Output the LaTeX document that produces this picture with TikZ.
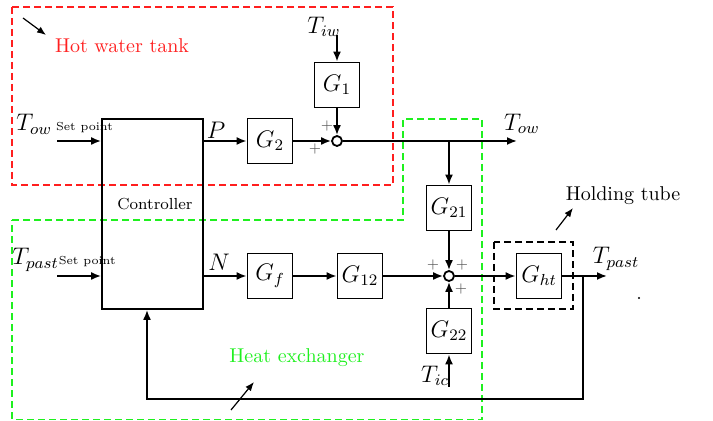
\documentclass[tikz,border=0pt]{standalone}
\usepackage{amsmath}
\usepackage{xcolor}
\usetikzlibrary{arrows.meta}
\definecolor{tankred}{HTML}{FF1F1F}
\definecolor{hexgreen}{HTML}{1FF01F}
\definecolor{plusgray}{HTML}{555555}
\newcommand{\setptfont}{\fontsize{5.8}{7}\selectfont}

\begin{document}
\begin{tikzpicture}[
  x=0.5pt,
  y=-0.5pt,
  every node/.style={font=\large},
  block/.style={draw, line width=0.9pt, minimum size=22.5pt, inner sep=0pt},
  ctrlbox/.style={draw, line width=0.9pt, minimum width=50.5pt,
                  minimum height=95pt, inner sep=0pt},
  sumpt/.style={draw, circle, line width=0.9pt, minimum size=5pt, inner sep=0pt},
  sig/.style={line width=0.9pt, -{Latex[length=5pt, width=4pt]}},
  region/.style={line width=0.9pt, dash pattern=on 3.5pt off 2pt},
  pointer/.style={line width=0.6pt, -{Latex[length=4.5pt, width=3.5pt]}},
  plus/.style={font=\scriptsize, plusgray, inner sep=0pt},
  tag/.style={font=\normalsize}
]
  % ---- page size, in pixels of the reference ----
  \path (0,0) rectangle (713,421);

  % ---- dashed regions ----
  \draw[region, tankred] (12,7) rectangle (393,185);
  \draw[region, hexgreen] (12,220) -- (403,220) -- (403,119) -- (482,119)
    -- (482,419.5) -- (12,419.5) -- cycle;
  \draw[region] (494,242) rectangle (573,309);

  % ---- region labels and their pointers ----
  \node[tag, tankred]  (lbltank) at (122,46)  {Hot water tank};
  \node[tag, hexgreen] (lblhex)  at (297,358) {Heat exchanger};
  \node[tag]           (lblhold) at (623,196) {Holding tube};
  \draw[pointer] (23,18)   -- (46,35);
  \draw[pointer] (231,410) -- (254,382);
  \draw[pointer] (556,230) -- (573,208);

  % ---- controller ----
  \node[ctrlbox] (ctrl) at (152.5,214) {};
  \node[font=\footnotesize] (ctrllbl) at (155,204) {Controller};

  % ---- blocks ----
  \node[block] (g1)  at (337,85)  {$G_1$};
  \node[block] (g2)  at (270,141) {$G_2$};
  \node[block] (gf)  at (270,276) {$G_f$};
  \node[block] (g12) at (360,276) {$G_{12}$};
  \node[block] (g21) at (449,208) {$G_{21}$};
  \node[block] (g22) at (449,331) {$G_{22}$};
  \node[block] (ght) at (539,276) {$G_{ht}$};
  \node[sumpt] (sum1) at (337,141) {};
  \node[sumpt] (sum2) at (449,276) {};

  % ---- signal labels ----
  \node[anchor=base west, inner sep=0pt] (towset) at (16,131)
    {$T_{ow}$\,{\setptfont Set point}};
  \node[anchor=base west, inner sep=0pt] (tpastset) at (12,265)
    {$T_{past}${\setptfont Set point}};
  \node (lblp)   at (216,130) {$P$};
  \node (lbln)   at (219,262) {$N$};
  \node (tiw)    at (324,27)  {$T_{iw}$};
  \node (tow)    at (522,124) {$T_{ow}$};
  \node (tpast)  at (616,259) {$T_{past}$};
  \node (tic)    at (435,376) {$T_{ic}$};

  % ---- free ends of the signals ----
  \coordinate (towin)  at (57,141);
  \coordinate (tpin)   at (57,276);
  \coordinate (tiwin)  at (337,35);
  \coordinate (towout) at (517,141);
  \coordinate (br)     at (449,141);
  \coordinate (tpout)  at (607,276);
  \coordinate (tap)    at (583,276);
  \coordinate (fbin)   at (147,399);
  \coordinate (ticin)  at (449,387);

  % ---- upper loop ----
  \draw[sig] (towin) -- (towin -| ctrl.west);
  \draw[sig] (g2.west -| ctrl.east) -- (g2);
  \draw[sig] (g2) -- (sum1);
  \draw[sig] (tiwin) -- (g1);
  \draw[sig] (g1) -- (sum1);
  \draw[sig] (sum1) -- (towout);
  \draw[sig] (br) -- (g21);

  % ---- lower loop ----
  \draw[sig] (tpin) -- (tpin -| ctrl.west);
  \draw[sig] (gf.west -| ctrl.east) -- (gf);
  \draw[sig] (gf) -- (g12);
  \draw[sig] (g12) -- (sum2);
  \draw[sig] (g21) -- (sum2);
  \draw[sig] (g22) -- (sum2);
  \draw[sig] (ticin) -- (g22);
  \draw[sig] (sum2) -- (ght);
  \draw[sig] (ght) -- (tpout);
  \draw[sig] (tap) |- (fbin) -- (fbin |- ctrl.south);

  % ---- signs at the summing points ----
  \foreach \px/\py in {327/126, 315/149, 433/265, 462/265, 461/289}
    \node[plus] at (\px,\py) {$+$};

  % ---- stray dot ----
  \fill (639,298) circle (0.6pt);
\end{tikzpicture}
\end{document}
